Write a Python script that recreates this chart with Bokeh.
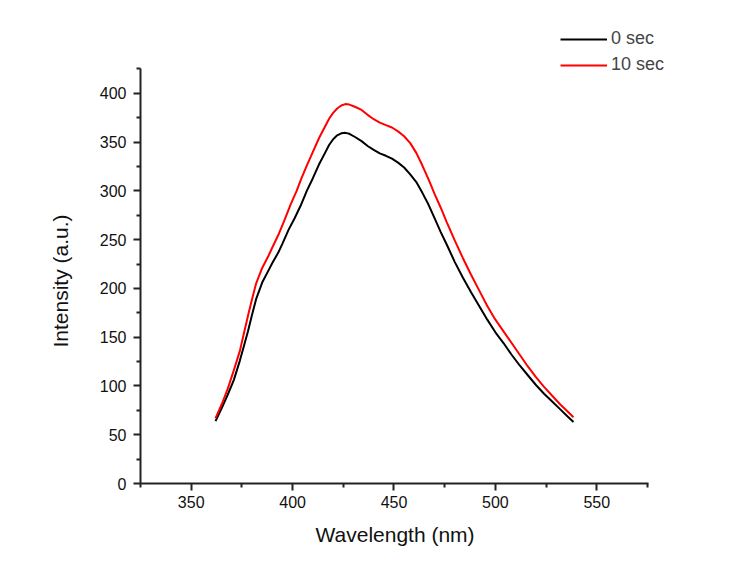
from bokeh.plotting import figure
from bokeh.models import Range1d, Legend, LegendItem, FixedTicker, Title
from bokeh.embed import file_html
from bokeh.resources import INLINE

wavelength_0 = [362, 365, 368, 371, 374, 376, 378, 380, 382, 385, 388, 390, 393, 395, 398,
                401, 404, 407, 410, 413, 416, 418, 420, 422, 424, 426, 428, 431, 434, 437, 440, 443,
                446, 449, 452, 455, 458, 461, 464, 467, 470, 473, 476, 480, 484, 488, 492,
                496, 500, 504, 508, 512, 516, 520, 524, 528, 532, 536, 538.5]
intensity_0 = [64, 77, 91, 106, 126, 141, 156, 173, 189, 206, 218, 226, 237, 246, 260,
               272, 285, 300, 313, 327, 339, 347, 353, 357, 359, 359.5, 358.5, 355, 351, 346, 342, 338.5,
               336, 333, 329, 324, 317, 309, 298, 286, 272, 258, 245, 227, 211, 196, 182,
               168, 155, 144, 132, 121, 111, 101, 92, 84, 76, 68, 63]

wavelength_10 = [362, 365, 368, 371, 374, 376, 378, 380, 382, 385, 388, 390, 393, 396, 399,
                 402, 404, 407, 410, 413, 416, 418, 420, 422, 424, 426, 428, 431, 434, 437, 440, 443,
                 446, 449, 452, 455, 458, 461, 464, 467, 470, 473, 476, 480, 484, 488, 492,
                 496, 500, 504, 508, 512, 516, 520, 524, 528, 532, 536, 538.5]
intensity_10 = [67, 81, 97, 116, 136, 154, 172, 189, 205, 221, 233, 242, 255, 270, 286,
                300, 311, 326, 340, 354, 366, 374, 380, 384.5, 387.5, 389, 388.5, 386, 383, 378, 373.5, 370,
                367.5, 365, 361, 356, 349, 339, 326, 312, 297, 283, 268, 249, 231, 214, 198,
                182, 168, 156, 144, 132, 120, 109, 99, 90, 81, 73, 68]

series_labels = ["0 sec", "10 sec"]
x_ticks = [350, 400, 450, 500, 550]
y_ticks = [0, 50, 100, 150, 200, 250, 300, 350, 400]
x_axis_span = (325, 575.5)
y_axis_span = (0, 425.5)
x_title = "Wavelength (nm)"
y_title = "Intensity (a.u.)"

FONT = "Liberation Sans"

# frame: left 140, right 700, top 20, bottom 483 (axes drawn only over their spans)
p = figure(width=739, height=569, output_backend="svg", toolbar_location=None,
           x_range=Range1d(325, 601.14), y_range=Range1d(0, 474.7),
           min_border_left=140, min_border_right=39, min_border_top=20, min_border_bottom=86)
p.outline_line_color = None
p.grid.visible = False
p.background_fill_color = "white"
p.border_fill_color = "white"

r0 = p.line(wavelength_0, intensity_0, line_color="black", line_width=2)
r1 = p.line(wavelength_10, intensity_10, line_color="#ff0000", line_width=2)

for ax in (p.xaxis[0], p.yaxis[0]):
    ax.axis_line_width = 2
    ax.axis_line_color = "#222222"
    ax.major_tick_line_color = "#222222"
    ax.minor_tick_line_color = "#222222"
    ax.major_tick_line_width = 2
    ax.minor_tick_line_width = 2
    ax.major_tick_out = 7
    ax.major_tick_in = 0
    ax.minor_tick_out = 4
    ax.minor_tick_in = 0
    ax.major_label_text_font = FONT
    ax.major_label_text_font_size = "16px"
    ax.major_label_text_color = "#111111"

p.xaxis.bounds = x_axis_span
p.yaxis.bounds = y_axis_span
p.xaxis.ticker = FixedTicker(ticks=x_ticks, minor_ticks=[325, 375, 425, 475, 525, 575])
p.yaxis.ticker = FixedTicker(ticks=y_ticks, minor_ticks=[25, 75, 125, 175, 225, 275, 325, 375, 425])
p.xaxis.major_label_standoff = 5
p.yaxis.major_label_standoff = 7

xt = Title(text=x_title, align="left", offset=175, vertical_align="bottom", standoff=20,
           text_font=FONT, text_font_size="21px", text_font_style="normal", text_color="#111111")
p.add_layout(xt, "below")
yt = Title(text=y_title, align="left", offset=136, vertical_align="bottom", standoff=50,
           text_font=FONT, text_font_size="21px", text_font_style="normal", text_color="#111111")
p.add_layout(yt, "left")

legend = Legend(items=[LegendItem(label=series_labels[0], renderers=[r0]),
                       LegendItem(label=series_labels[1], renderers=[r1])],
                location=(420, 408), orientation="vertical",
                glyph_width=47, glyph_height=20, spacing=5, padding=0, margin=0,
                label_text_font=FONT, label_text_font_size="18px",
                label_standoff=4, label_height=20,
                background_fill_alpha=0, border_line_color=None)
p.add_layout(legend, "center")

open("out.html", "w").write(file_html(p, INLINE))
